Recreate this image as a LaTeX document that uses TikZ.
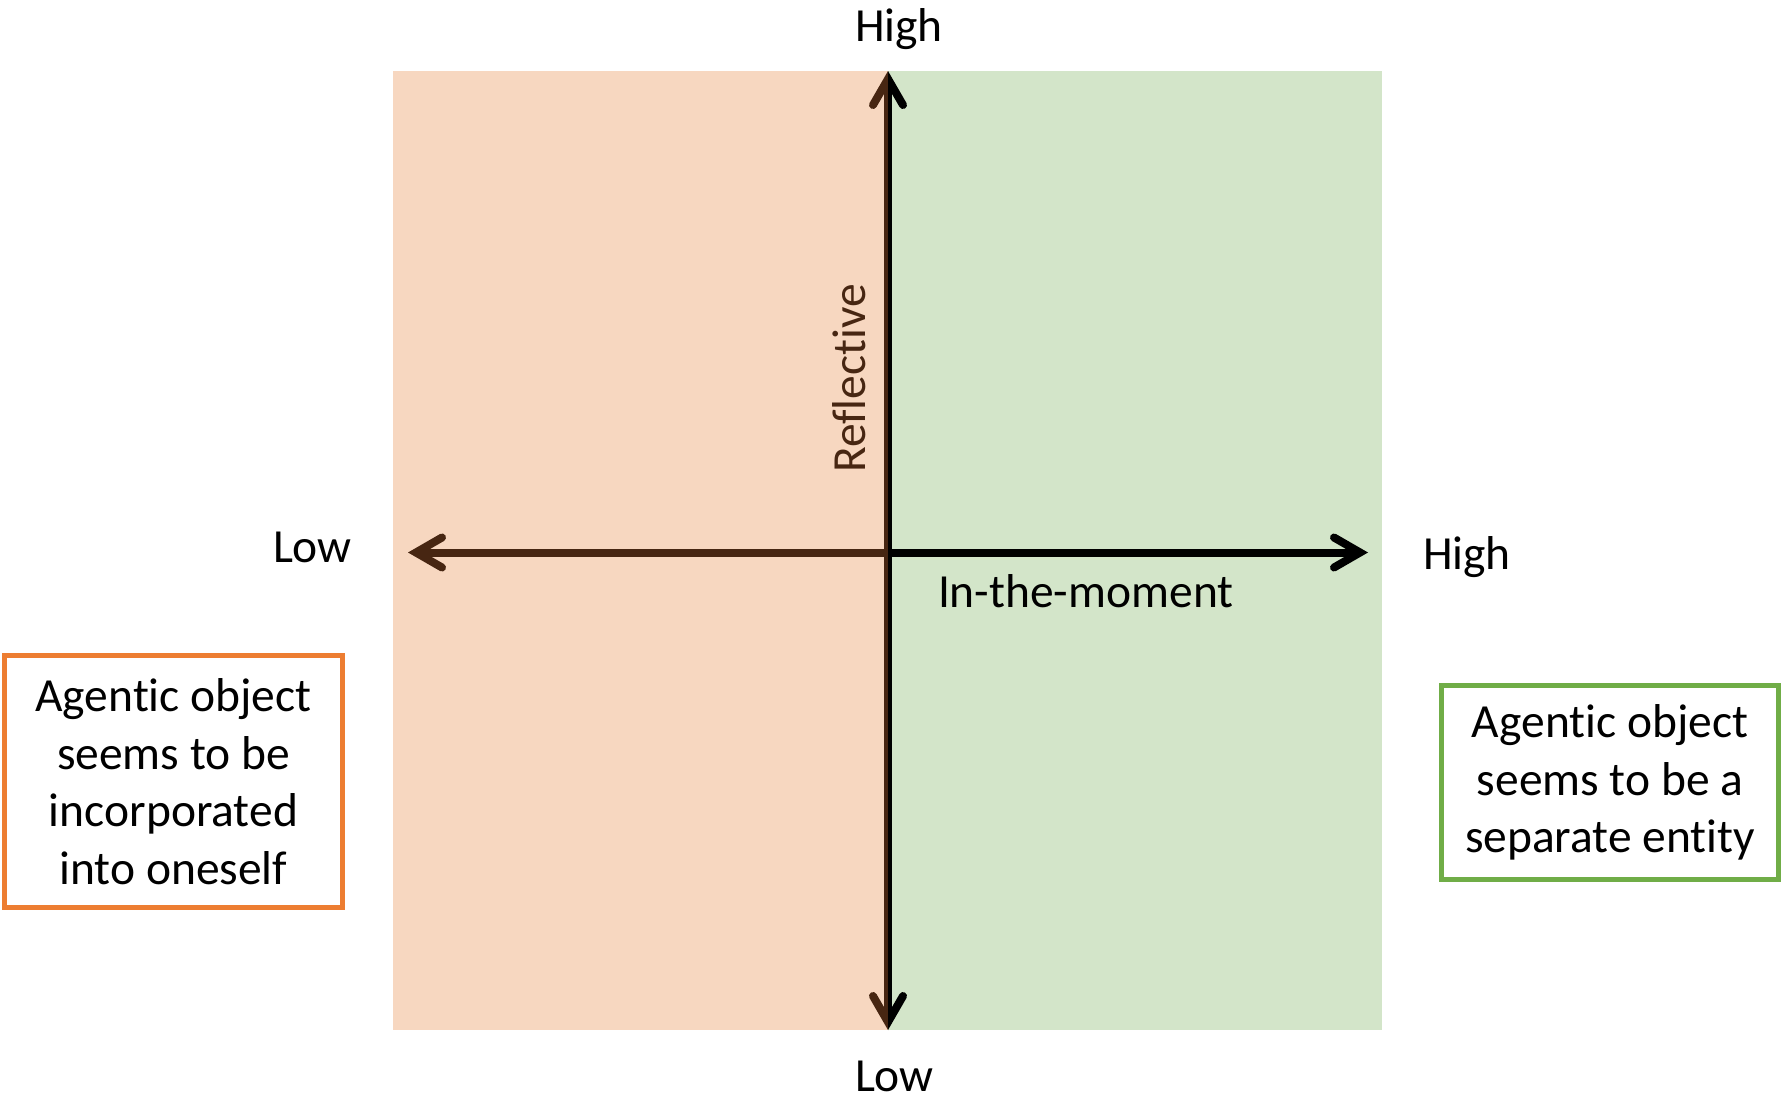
\documentclass[tikz,border=0pt]{standalone}
\usepackage{fontspec}
\setmainfont{Carlito}[Ligatures=NoCommon]
\usetikzlibrary{arrows.meta}
\definecolor{peach}{HTML}{F7D7C0}
\definecolor{leaf}{HTML}{D3E5C9}
\definecolor{axbrown}{HTML}{472612}
\definecolor{boxorange}{HTML}{ED7D31}
\definecolor{boxgreen}{HTML}{70AD47}
\newcommand{\nolig}{\kern0pt\relax}
\begin{document}
\begin{tikzpicture}[x=1pt,y=-1pt,
  lbl/.style={font=\fontsize{47.5}{57.5}\selectfont, inner sep=0pt, outer sep=0pt},
  barb/.tip={Straight Barb[length=26pt,width=30pt,line cap=round,line join=miter]},
  axisline/.style={line width=8pt, barb-barb},
  qbox/.style={draw, line width=5pt, fill=white, align=center, inner sep=0pt,
    font=\fontsize{47.5}{57.5}\selectfont}]
\useasboundingbox (0,0) rectangle (1783,1100);
% quadrants
\fill[peach] (393,71) rectangle (888,1030);
\fill[leaf] (888,71) rectangle (1382,1030);
% axis end points
\coordinate (top) at (888,71);
\coordinate (bottom) at (888,1030);
\coordinate (left) at (408,552.5);
\coordinate (right) at (1368,552.5);
% left half brown
\begin{scope}
  \clip (0,0) rectangle (888,1100);
  \draw[axisline, axbrown] (bottom) -- (top);
  \draw[axisline, axbrown] (left) -- (right);
\end{scope}
% right half black
\begin{scope}
  \clip (888,0) rectangle (1783,1100);
  \draw[axisline, black] (bottom) -- (top);
  \draw[axisline, black] (left) -- (right);
\end{scope}
% labels
\node[lbl, anchor=base west] (hightop) at (855,41) {High};
\node[lbl, anchor=base west] (lowbot) at (855,1091) {Low};
\node[lbl, anchor=base west] (lowleft) at (273,562) {Low};
\node[lbl, anchor=base west] (highright) at (1423,569) {High};
\node[lbl, anchor=base west] (moment) at (938,607) {In-the-moment};
\node[lbl, anchor=base, rotate=90, text=axbrown] (reflective) at (865,378.5) {Reflective};
% boxes
\node[qbox, draw=boxorange, minimum width=338pt, minimum height=252pt] (incorp) at (173.5,781.5)
  {Agent\nolig ic object\\seems to be\\incorporated\\into oneself};
\node[qbox, draw=boxgreen, minimum width=337pt, minimum height=194pt] (separate) at (1610,782.5)
  {Agent\nolig ic object\\seems to be a\\separate ent\nolig ity};
\end{tikzpicture}
\end{document}
